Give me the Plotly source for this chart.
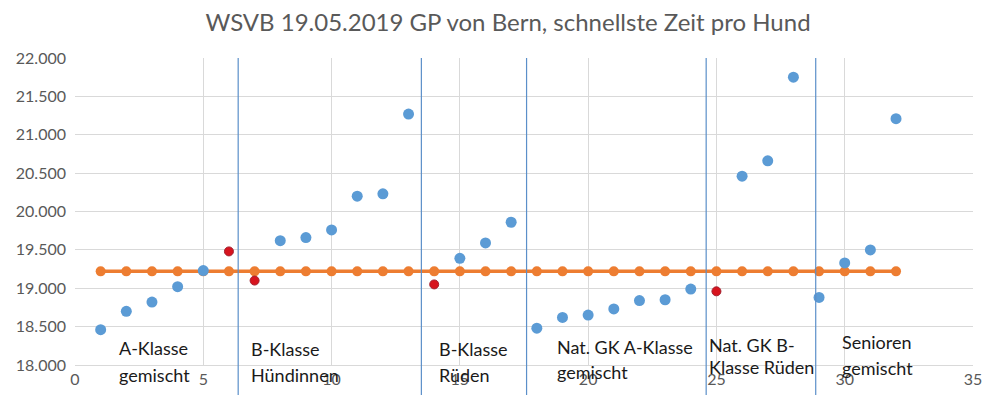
import plotly.graph_objects as go

# --- data ---
dog_index = list(range(1, 33))
best_time = [18.46, 18.70, 18.82, 19.02, 19.23, 19.48, 19.10, 19.62, 19.66, 19.76,
             20.20, 20.23, 21.27, 19.05, 19.39, 19.59, 19.86, 18.48, 18.62, 18.65,
             18.73, 18.84, 18.85, 18.99, 18.96, 20.46, 20.66, 21.75, 18.88, 19.33,
             19.50, 21.21]
reference_time = [19.22, 19.22, 19.22, 19.22, 19.22, 19.22, 19.22, 19.22, 19.22, 19.22,
                  19.22, 19.22, 19.22, 19.22, 19.22, 19.22, 19.22, 19.22, 19.22, 19.22,
                  19.22, 19.22, 19.22, 19.22, 19.22, 19.22, 19.22, 19.22, 19.22, 19.22,
                  19.22, 19.22]
highlight_x = [6, 7, 14, 25]
highlight_y = [19.48, 19.10, 19.05, 18.96]

group_bounds = [6.36, 13.5, 17.6, 24.6, 28.87]
group_line1 = ["A-Klasse", "B-Klasse", "B-Klasse", "Nat. GK A-Klasse", "Nat. GK B-", "Senioren"]
group_line2 = ["gemischt", "Hündinnen", "Rüden", "gemischt", "Klasse Rüden", "gemischt"]

y_ticks = [18.0, 18.5, 19.0, 19.5, 20.0, 20.5, 21.0, 21.5, 22.0]
x_ticks = [0, 5, 10, 15, 20, 25, 30, 35]

title = "WSVB 19.05.2019 GP von Bern, schnellste Zeit pro Hund"

# label placement (layout only)
label_x = [1.64, 6.78, 14.1, 18.7, 24.62, 29.8]
label_y1 = [0.055, 0.052, 0.052, 0.060, 0.065, 0.075]
label_y2 = [-0.032, -0.032, -0.032, -0.022, -0.005, -0.010]

FONT = "Lato"
GRAY = "#595959"

fig = go.Figure()

fig.add_trace(go.Scatter(
    x=dog_index, y=reference_time, mode="lines+markers",
    line=dict(color="#ED7D31", width=3.5),
    marker=dict(color="#ED7D31", size=10),
    showlegend=False, hoverinfo="skip"))

fig.add_trace(go.Scatter(
    x=[x for x in dog_index if x not in highlight_x],
    y=[y for x, y in zip(dog_index, best_time) if x not in highlight_x],
    mode="markers",
    marker=dict(color="#5B9BD5", size=11),
    showlegend=False))

fig.add_trace(go.Scatter(
    x=highlight_x, y=highlight_y, mode="markers",
    marker=dict(color="#D7141E", size=9, line=dict(color="#A3202E", width=1)),
    showlegend=False))

for b in group_bounds:
    fig.add_shape(type="line", xref="x", yref="paper", x0=b, x1=b, y0=-0.2, y1=1.0,
                  line=dict(color="#5B8FC9", width=1.2), layer="above")

for gx, l1, l2, y1, y2 in zip(label_x, group_line1, group_line2, label_y1, label_y2):
    fig.add_annotation(x=gx, y=y1, xref="x", yref="paper", text=l1, showarrow=False,
                       xanchor="left", yanchor="middle",
                       font=dict(family=FONT, size=18, color="#1a1a1a"))
    fig.add_annotation(x=gx, y=y2, xref="x", yref="paper", text=l2, showarrow=False,
                       xanchor="left", yanchor="middle",
                       font=dict(family=FONT, size=18, color="#1a1a1a"))

# page body has an 8px margin; margins below compensate for it
fig.update_layout(
    width=1000, height=395,
    margin=dict(l=67, r=35, t=50, b=38, autoexpand=False),
    paper_bgcolor="white", plot_bgcolor="white",
    title=dict(text=title, x=0.5, xanchor="center", y=0.963, yanchor="middle",
               font=dict(family=FONT, size=24, color=GRAY)),
    xaxis=dict(range=[0, 35], tickvals=x_ticks, showgrid=True, gridcolor="#D9D9D9",
               gridwidth=1, zeroline=False, showline=True, linecolor="#D9D9D9",
               tickfont=dict(family=FONT, size=16, color=GRAY), ticks="",
               automargin=False),
    yaxis=dict(range=[18, 22], tickvals=y_ticks, tickformat=".3f", showgrid=True,
               gridcolor="#D9D9D9", gridwidth=1, zeroline=False, showline=False,
               tickfont=dict(family=FONT, size=16, color=GRAY), ticks="",
               ticklabelstandoff=8, automargin=False),
    font=dict(family=FONT),
)

fig.write_html("out.html")
